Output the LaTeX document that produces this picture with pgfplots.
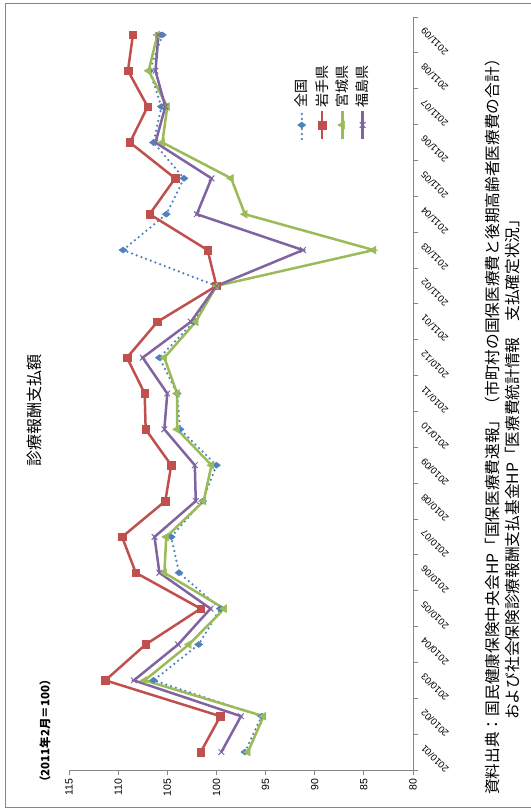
\documentclass[border=0pt]{standalone}
\usepackage{fontspec}
\setmainfont{Liberation Sans}
\newfontfamily\jp{Noto Sans CJK JP}
\usepackage{pgfplots}
\usepackage{pgfplotstable}
\pgfplotsset{compat=1.18}

\definecolor{zenkoku}{HTML}{4F81BD}
\definecolor{iwate}{HTML}{C0504D}
\definecolor{miyagi}{HTML}{9BBB59}
\definecolor{fukushima}{HTML}{8064A2}
\definecolor{axisgray}{HTML}{868686}

% index 2011/02 = 100
\pgfplotstableread{
idx zenkoku iwate miyagi fukushima
0   97.1  101.6  96.8  99.5
1   95.4   99.6  95.2  97.5
2  106.4  111.3 107.3 108.4
3  101.8  107.2 102.8 103.9
4   99.6  101.6  99.2 100.6
5  103.8  108.2 105.3 105.8
6  104.6  109.6 105.1 106.3
7  101.4  105.2 101.3 102.1
8  100.0  104.6 100.5 102.2
9  103.7  107.2 104.0 105.3
10 104.0  107.3 104.0 105.0
11 105.8  109.1 105.3 107.5
12 102.3  106.0 102.1 102.6
13 100.0  100.0 100.0 100.0
14 109.5  100.9  84.0  91.2
15 105.1  106.8  97.1 102.0
16 103.3  104.2  98.5 100.5
17 106.4  108.8 105.5 106.2
18 105.6  107.0 105.0 105.2
19 106.8  109.0 106.9 106.2
20 105.5  108.5 106.0 105.9
}\datatable

\begin{document}
\rotatebox{90}{%
\begin{tikzpicture}[x=1pt,y=1pt]
\useasboundingbox (0,0) rectangle (810,530);
\draw[axisgray, line width=0.8pt] (3,-10) rectangle (807,525);

\begin{axis}[
  at={(40pt,117pt)}, anchor=south west,
  scale only axis, width=753pt, height=344pt,
  xmin=-0.5, xmax=20.5, ymin=80, ymax=115,
  axis x line*=bottom, axis y line*=left,
  axis line style={axisgray, line width=0.8pt},
  tick align=outside, major tick length=5pt,
  tick style={axisgray, line width=0.8pt},
  xtick={-0.5,0.5,...,20.5},
  x tick label as interval,
  xticklabels={2010/01,2010/02,2010/03,2010/04,2010/05,2010/06,2010/07,2010/08,2010/09,2010/10,2010/11,2010/12,2011/01,2011/02,2011/03,2011/04,2011/05,2011/06,2011/07,2011/08,2011/09},
  xticklabel style={font=\fontsize{9.5}{11}\selectfont, rotate=45, anchor=east, xshift=4pt, yshift=-7pt},
  ytick={80,85,...,115},
  yticklabel style={font=\fontsize{10.5}{12}\selectfont},
  /pgf/number format/assume math mode=true,
  legend style={draw=none, fill=none, at={(0.836,0.349)}, anchor=north west,
    font=\jp\fontsize{14}{16}\selectfont, row sep=3pt, inner sep=0pt,
    nodes={inner sep=2pt}},
  legend cell align=left,
  legend image code/.code={\draw[mark repeat=2,mark phase=2,#1] plot coordinates {(0pt,0pt) (14pt,0pt) (28pt,0pt)};},
]
\addplot[zenkoku, line width=2.5pt, dash pattern=on 0pt off 5pt, line cap=round,
  mark=diamond*, mark size=4pt, mark options={solid, fill=zenkoku, line width=0.5pt}]
  table[x=idx, y=zenkoku]{\datatable};
\addlegendentry{全国}
\addplot[iwate, line width=2.5pt,
  mark=square*, mark size=3.8pt, mark options={solid, fill=iwate, line width=0.5pt}]
  table[x=idx, y=iwate]{\datatable};
\addlegendentry{岩手県}
\addplot[miyagi, line width=2.5pt,
  mark=triangle*, mark size=4.5pt, mark options={solid, fill=miyagi, line width=0.5pt}]
  table[x=idx, y=miyagi]{\datatable};
\addlegendentry{宮城県}
\addplot[fukushima, line width=2.5pt,
  mark=x, mark size=4pt, mark options={solid, line width=1pt}]
  table[x=idx, y=fukushima]{\datatable};
\addlegendentry{福島県}
\end{axis}

\node[font=\jp\fontsize{16}{18}\selectfont] at (399,495.5) {診療報酬支払額};
\node[font=\jp\bfseries\fontsize{11.5}{13}\selectfont] at (79,485) {（2011年2月＝100）};
\node[anchor=west, inner sep=0pt, font=\jp\fontsize{15.7}{17}\selectfont] at (15,37)
  {資料出典：国民健康保険中央会HP「国保医療費速報」（市町村の国保医療費と後期高齢者医療費の合計）};
\node[anchor=west, inner sep=0pt, font=\jp\fontsize{15.7}{17}\selectfont] at (90,17)
  {および社会保険診療報酬支払基金HP「医療費統計情報　支払確定状況」};
\end{tikzpicture}}
\end{document}
